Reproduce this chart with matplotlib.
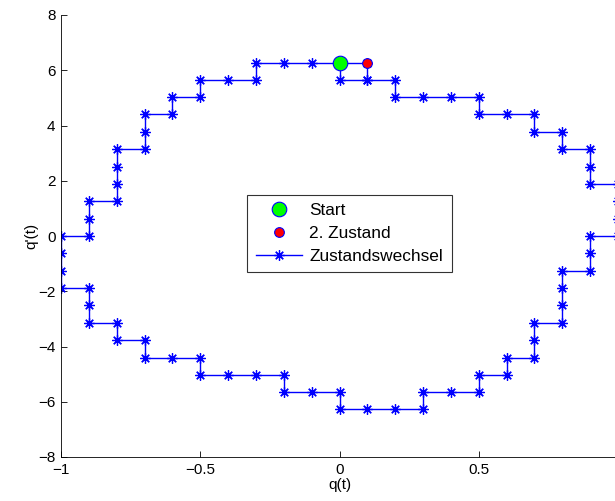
import matplotlib
matplotlib.use("Agg")
import matplotlib.pyplot as plt
from matplotlib.lines import Line2D

# Quantized phase-space trajectory: position q(t) and velocity q'(t)
q = [0.0, 0.1, 0.1, 0.2, 0.2, 0.3, 0.4, 0.5, 0.5, 0.6, 0.7, 0.7, 0.8, 0.8,
     0.9, 0.9, 0.9, 1.0, 1.0, 1.0, 1.0, 0.9, 0.9, 0.9, 0.8, 0.8, 0.8, 0.8,
     0.7, 0.7, 0.7, 0.6, 0.6, 0.5, 0.5, 0.4, 0.3, 0.3, 0.2, 0.1, 0.0, 0.0,
     -0.1, -0.2, -0.2, -0.3, -0.4, -0.5, -0.5, -0.6, -0.7, -0.7, -0.8, -0.8,
     -0.9, -0.9, -0.9, -1.0, -1.0, -1.0, -1.0, -0.9, -0.9, -0.9, -0.8, -0.8,
     -0.8, -0.8, -0.7, -0.7, -0.7, -0.6, -0.6, -0.5, -0.5, -0.4, -0.3, -0.3,
     -0.2, -0.1, 0.0, 0.0, 0.1]
qdot = [6.28, 6.28, 5.65, 5.65, 5.03, 5.03, 5.03, 5.03, 4.40, 4.40, 4.40,
        3.77, 3.77, 3.14, 3.14, 2.51, 1.88, 1.88, 1.26, 0.63, 0.0, 0.0,
        -0.63, -1.26, -1.26, -1.88, -2.51, -3.14, -3.14, -3.77, -4.40, -4.40,
        -5.03, -5.03, -5.65, -5.65, -5.65, -6.28, -6.28, -6.28, -6.28, -5.65,
        -5.65, -5.65, -5.03, -5.03, -5.03, -5.03, -4.40, -4.40, -4.40, -3.77,
        -3.77, -3.14, -3.14, -2.51, -1.88, -1.88, -1.26, -0.63, 0.0, 0.0,
        0.63, 1.26, 1.26, 1.88, 2.51, 3.14, 3.14, 3.77, 4.40, 4.40, 5.03,
        5.03, 5.65, 5.65, 5.65, 6.28, 6.28, 6.28, 6.28, 5.65, 5.65]

start_q, start_qdot = 0.0, 6.28
second_q, second_qdot = 0.1, 6.28

labels = ["Start", "2. Zustand", "Zustandswechsel"]
xticks = [-1, -0.5, 0, 0.5, 1]
xticklabels = ["\u22121", "\u22120.5", "0", "0.5", "1"]
yticks = [-8, -6, -4, -2, 0, 2, 4, 6, 8]

plt.rcParams["font.family"] = ["Liberation Sans", "DejaVu Sans"]

fig = plt.figure(figsize=(6.15, 5.01), dpi=100)
ax = fig.add_axes([61 / 615, 1 - 457 / 501, 557 / 615, 442 / 501])

asterisk = (8, 2, 0)
ax.plot(q, qdot, color="blue", lw=1.0, marker=asterisk, markersize=7.5,
        markeredgewidth=0.9, zorder=2)
ax.plot([start_q], [start_qdot], "o", markersize=10.5, markerfacecolor="#00ff00",
        markeredgecolor="blue", markeredgewidth=0.8, zorder=3)
ax.plot([second_q], [second_qdot], "o", markersize=7, markerfacecolor="red",
        markeredgecolor="blue", markeredgewidth=0.8, zorder=3)

ax.set_xlim(-1, 1)
ax.set_ylim(-8, 8)
ax.set_xticks(xticks)
ax.set_xticklabels(xticklabels)
ax.set_yticks(yticks)
ax.set_yticklabels([str(v).replace("-", "\u2212") for v in yticks])
ax.tick_params(direction="in", length=4, width=0.6, labelsize=11, pad=4)
for side in ("top", "right"):
    ax.spines[side].set_visible(False)
for side in ("left", "bottom"):
    ax.spines[side].set_linewidth(0.6)

ax.set_xlabel("q(t)", fontsize=11, labelpad=1)
ax.set_ylabel("q'(t)", fontsize=11, labelpad=0)

handles = [
    Line2D([], [], ls="none", marker="o", markersize=10.5, markerfacecolor="#00ff00",
           markeredgecolor="blue", markeredgewidth=0.8),
    Line2D([], [], ls="none", marker="o", markersize=7, markerfacecolor="red",
           markeredgecolor="blue", markeredgewidth=0.8),
    Line2D([], [], color="blue", lw=1.0, marker=asterisk, markersize=7.5,
           markeredgewidth=0.9),
]
leg_x = (349.5 - 61) / 557
leg_y = (457 - 233.5) / 442
leg = ax.legend(handles, labels, loc="center", bbox_to_anchor=(leg_x, leg_y),
                bbox_transform=ax.transAxes, fontsize=12.4, frameon=True,
                fancybox=False, edgecolor="black", handlelength=2.7,
                handletextpad=0.4, labelspacing=0.45, borderpad=0.5,
                borderaxespad=0)
leg.get_frame().set_linewidth(0.8)

fig.savefig("out.png", dpi=100)
